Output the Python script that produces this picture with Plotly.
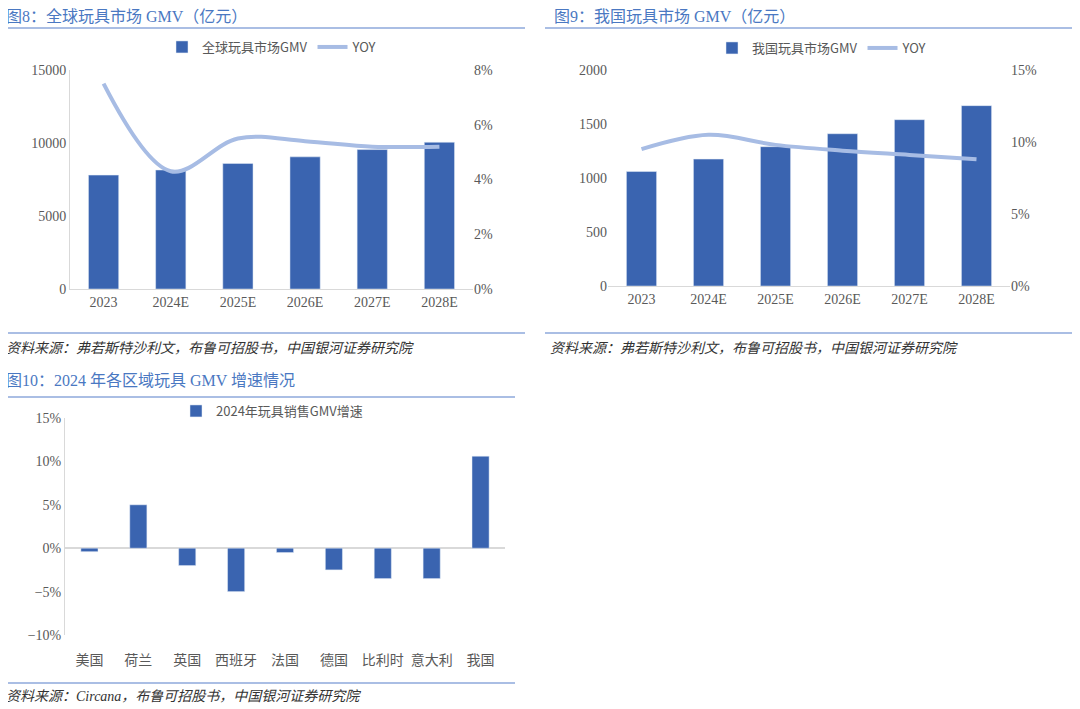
import plotly.graph_objects as go

years = ["2023", "2024E", "2025E", "2026E", "2027E", "2028E"]
global_gmv = [7800, 8150, 8600, 9050, 9550, 10050]
global_yoy = [7.5, 4.3, 5.5, 5.4, 5.2, 5.2]
china_gmv = [1060, 1175, 1290, 1410, 1540, 1670]
china_yoy = [9.5, 10.5, 9.8, 9.4, 9.1, 8.8]
regions = ["美国", "荷兰", "英国", "西班牙", "法国", "德国", "比利时", "意大利", "我国"]
region_growth = [-0.4, 5.0, -2.0, -5.0, -0.5, -2.5, -3.5, -3.5, 10.6]

BAR = "#3A64B0"
LINE = "#A7BCE4"
TXT = "#595959"
TITLE = "#4A78C2"
F = "Noto Sans CJK SC"
FS = "Liberation Serif, Noto Sans CJK SC"
W, H = 1080, 709
OFF = 8  # page body margin


def px(x):
    return (x - OFF) / W


def py(y):
    return 1 - (y - OFF) / H


fig = go.Figure()
fig.add_bar(x=years, y=global_gmv, marker_color=BAR, name="全球玩具市场GMV", xaxis="x", yaxis="y", width=0.45, legend="legend")
fig.add_scatter(x=years, y=global_yoy, mode="lines", line=dict(color=LINE, width=4, shape="spline"), name="YOY", xaxis="x", yaxis="y2", legend="legend")
fig.add_bar(x=years, y=china_gmv, marker_color=BAR, name="我国玩具市场GMV", xaxis="x2", yaxis="y3", width=0.45, legend="legend2")
fig.add_scatter(x=years, y=china_yoy, mode="lines", line=dict(color=LINE, width=4, shape="spline"), name="YOY", xaxis="x2", yaxis="y4", legend="legend2")
fig.add_bar(x=regions, y=region_growth, marker_color=BAR, name="2024年玩具销售GMV增速", xaxis="x3", yaxis="y5", width=0.35, legend="legend3")

ax = dict(showgrid=False, tickfont=dict(family=FS, size=14, color=TXT), ticks="", zeroline=False, automargin=False)
lg = dict(orientation="h", xanchor="center", yanchor="middle", font=dict(family=F, size=13, color=TXT), bgcolor="rgba(0,0,0,0)")
fig.update_layout(
    width=W, height=H, margin=dict(l=0, r=0, t=0, b=0, autoexpand=False),
    paper_bgcolor="white", plot_bgcolor="white", font=dict(family=F, color=TXT),
    xaxis=dict(ax, domain=[px(70), px(473)], anchor="y", showline=True, linecolor="#D9D9D9"),
    yaxis=dict(ax, domain=[py(289), py(70)], range=[0, 15000], dtick=5000, tickformat="d", showline=True, linecolor="#D9D9D9"),
    yaxis2=dict(ax, overlaying="y", side="right", anchor="x", range=[0, 8], dtick=2, ticksuffix="%"),
    xaxis2=dict(ax, domain=[px(608), px(1010)], anchor="y3", showline=True, linecolor="#D9D9D9"),
    yaxis3=dict(ax, domain=[py(286), py(70)], range=[0, 2000], dtick=500, tickformat="d", anchor="x2"),
    yaxis4=dict(ax, overlaying="y3", side="right", anchor="x2", range=[0, 15], dtick=5, ticksuffix="%"),
    xaxis3=dict(ax, domain=[px(65), px(505)], anchor="free", position=py(650)),
    yaxis5=dict(ax, domain=[py(635), py(418)], range=[-10, 15], dtick=5, ticksuffix="%", anchor="x3",
                showline=True, linecolor="#D9D9D9", zeroline=True, zerolinecolor="#D9D9D9"),
    legend=dict(lg, x=px(272), y=py(47)),
    legend2=dict(lg, x=px(822), y=py(48)),
    legend3=dict(lg, x=px(272), y=py(411)),
    showlegend=True,
)

titles = [(4, 17, "图8：全球玩具市场 GMV（亿元）"), (552, 17, "图9：我国玩具市场 GMV（亿元）"), (4, 381, "图10：2024 年各区域玩具 GMV 增速情况")]
for x, y, t in titles:
    fig.add_annotation(x=px(x), y=py(y), xref="paper", yref="paper", text=t, showarrow=False,
                       xanchor="left", yanchor="middle", font=dict(family=FS, size=16, color=TITLE))
sources = [(4, 349, "资料来源：弗若斯特沙利文，布鲁可招股书，中国银河证券研究院"), (548, 349, "资料来源：弗若斯特沙利文，布鲁可招股书，中国银河证券研究院"), (4, 696, "资料来源：Circana，布鲁可招股书，中国银河证券研究院")]
for x, y, t in sources:
    fig.add_annotation(x=px(x), y=py(y), xref="paper", yref="paper", text="<i>" + t + "</i>", showarrow=False,
                       xanchor="left", yanchor="middle", font=dict(family=FS, size=14, color="#333333"))
for x0, x1, y in [(0, 525, 28), (545, 1075, 28), (0, 525, 333), (545, 1075, 333), (0, 515, 397), (0, 515, 683)]:
    fig.add_shape(type="line", xref="paper", yref="paper", x0=px(x0), x1=px(x1), y0=py(y), y1=py(y),
                  line=dict(color="#8EA9DB", width=1.5))

fig.write_html("out.html")
